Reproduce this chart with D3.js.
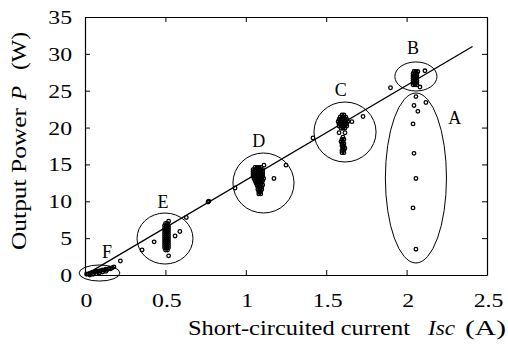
<!DOCTYPE html>
<html>
<head>
<meta charset="utf-8">
<script src="https://cdn.jsdelivr.net/npm/d3@7"></script>
<style>
  html, body { margin: 0; padding: 0; background: #fff; }
</style>
</head>
<body>
<svg id="chart" width="508" height="350" font-family="Liberation Serif, Times New Roman, serif"></svg>
<script>
// Measured output power versus short-circuited current, grouped by irradiance condition
const groupA_x = [2.058, 2.046, 2.12, 2.07, 2.04, 2.046, 2.058, 2.04, 2.058];
const groupA_y = [24.2, 23.0, 23.4, 22.2, 20.5, 16.5, 13.1, 9.1, 3.5];

const groupB_x = [
  2.040, 2.052, 2.064,  2.040, 2.052, 2.064,  2.040, 2.052, 2.064,  2.040, 2.052, 2.064,
  2.040, 2.052, 2.064,  2.040, 2.052, 2.064,  2.046, 2.058, 2.070,
  2.114, 2.083, 1.90];
const groupB_y = [
  25.8, 25.8, 25.8,  26.1, 26.1, 26.1,  26.4, 26.4, 26.4,  26.7, 26.7, 26.7,
  27.0, 27.0, 27.0,  27.3, 27.3, 27.3,  27.6, 27.6, 27.6,
  27.7, 25.5, 25.4];

const groupC_x = [
  1.592, 1.604, 1.616,
  1.580, 1.592, 1.604, 1.616, 1.628,
  1.580, 1.592, 1.604, 1.616, 1.628,
  1.574, 1.586, 1.598, 1.610, 1.622, 1.634,
  1.580, 1.592, 1.604, 1.616, 1.628,
  1.586, 1.598, 1.610, 1.622,
  1.598, 1.610,
  1.598, 1.610,  1.598, 1.610,  1.604, 1.616,  1.598, 1.610,
  1.598, 1.610,  1.592, 1.604,  1.598, 1.610,  1.604,
  1.66, 1.729, 1.58, 1.617, 1.418];
const groupC_y = [
  19.9, 19.9, 19.9,
  20.2, 20.2, 20.2, 20.2, 20.2,
  20.5, 20.5, 20.5, 20.5, 20.5,
  20.8, 20.8, 20.8, 20.8, 20.8, 20.8,
  21.1, 21.1, 21.1, 21.1, 21.1,
  21.4, 21.4, 21.4, 21.4,
  21.7, 21.7,
  16.6, 16.6,  16.9, 16.9,  17.2, 17.2,  17.5, 17.5,
  17.8, 17.8,  18.1, 18.1,  18.4, 18.4,  18.7,
  20.8, 21.5, 19.3, 19.3, 18.6];

const groupD_x = [
  1.057, 1.069, 1.081, 1.093,
  1.045, 1.057, 1.069, 1.081, 1.093, 1.105,
  1.045, 1.057, 1.069, 1.081, 1.093, 1.105,
  1.045, 1.057, 1.069, 1.081, 1.093, 1.105,
  1.045, 1.057, 1.069, 1.081, 1.093, 1.105,
  1.051, 1.063, 1.075, 1.087, 1.099, 1.111,
  1.057, 1.069, 1.081, 1.093, 1.105,
  1.063, 1.075, 1.087, 1.099,
  1.069, 1.081, 1.093, 1.105,
  1.075, 1.087, 1.099,  1.075, 1.087, 1.099,  1.081, 1.093,  1.081, 1.093,
  1.113, 1.175, 1.25, 0.933];
const groupD_y = [
  14.6, 14.6, 14.6, 14.6,
  14.3, 14.3, 14.3, 14.3, 14.3, 14.3,
  14.0, 14.0, 14.0, 14.0, 14.0, 14.0,
  13.7, 13.7, 13.7, 13.7, 13.7, 13.7,
  13.4, 13.4, 13.4, 13.4, 13.4, 13.4,
  13.1, 13.1, 13.1, 13.1, 13.1, 13.1,
  12.8, 12.8, 12.8, 12.8, 12.8,
  12.5, 12.5, 12.5, 12.5,
  12.2, 12.2, 12.2, 12.2,
  11.9, 11.9, 11.9,  11.6, 11.6, 11.6,  11.3, 11.3,  11.0, 11.0,
  14.9, 13.1, 14.9, 11.8];

const groupE_x = [
  0.501, 0.513,
  0.495, 0.507, 0.519,  0.495, 0.507, 0.519,  0.495, 0.507, 0.519,  0.495, 0.507, 0.519,
  0.495, 0.507, 0.519,  0.495, 0.507, 0.519,  0.495, 0.507, 0.519,  0.495, 0.507, 0.519,
  0.495, 0.507, 0.519,  0.495, 0.507, 0.519,  0.495, 0.507, 0.519,
  0.501, 0.513,
  0.59, 0.56, 0.43, 0.52, 0.63, 0.355, 0.52];
const groupE_y = [
  3.4, 3.4,
  3.7, 3.7, 3.7,  4.0, 4.0, 4.0,  4.3, 4.3, 4.3,  4.6, 4.6, 4.6,
  4.9, 4.9, 4.9,  5.2, 5.2, 5.2,  5.5, 5.5, 5.5,  5.8, 5.8, 5.8,
  6.1, 6.1, 6.1,  6.4, 6.4, 6.4,  6.7, 6.7, 6.7,
  7.0, 7.0,
  5.9, 5.3, 4.5, 2.6, 7.8, 3.4, 7.3];

const groupF_x = [0.01, 0.02, 0.03, 0.04, 0.05, 0.06, 0.07, 0.08, 0.09, 0.10, 0.11, 0.12, 0.13, 0.14, 0.15, 0.16, 0.17, 0.18, 0.03, 0.05, 0.07, 0.09, 0.11, 0.13,
                  0.22, 0.765, 0.77];
const groupF_y = [0.1, 0.15, 0.2, 0.3, 0.35, 0.4, 0.5, 0.45, 0.55, 0.6, 0.7, 0.65, 0.8, 0.75, 0.9, 0.85, 1.0, 1.1, 0.0, 0.1, 0.2, 0.3, 0.4, 0.5,
                  1.9, 9.9, 10.0];

// Fitted proportional relation P ~ k * Isc
const fitX = [0.02, 2.41];
const fitY = [0.25, 31.0];

// Groups ringed on the plot and their letters
const ringNames = ["A", "B", "C", "D", "E", "F"];
const ringCx = [2.058, 2.058, 1.617, 1.110, 0.4975, 0.09];
const ringCy = [13.16, 26.93, 19.40, 12.48, 4.95, 0.27];
const ringRx = [0.19, 0.131, 0.193, 0.19, 0.174, 0.127];
const ringRy = [11.53, 1.97, 4.07, 4.07, 3.46, 1.09];
const labelX = [2.30, 2.04, 1.59, 1.08, 0.485, 0.137];
const labelY = [21.3, 30.8, 25.1, 18.2, 9.9, 3.1];

const xTicks = [0, 0.5, 1, 1.5, 2, 2.5];
const yTicks = [0, 5, 10, 15, 20, 25, 30, 35];

const svg = d3.select("#chart");
const plotLeft = 85, plotRight = 487, plotTop = 17, plotBottom = 275;

const x = d3.scaleLinear().domain([0, 2.5]).range([plotLeft, plotRight]);
const y = d3.scaleLinear().domain([0, 35]).range([plotBottom, plotTop]);

// Frame with inward ticks on all four sides
const tickLen = 5;
function styleAxis(g) {
  g.select(".domain").attr("stroke", "#000").attr("stroke-width", 1.2);
  g.selectAll(".tick line").attr("stroke", "#000").attr("stroke-width", 1);
}
svg.append("g").attr("transform", `translate(0,${plotBottom})`)
  .call(d3.axisBottom(x).tickValues(xTicks).tickSizeInner(-tickLen).tickSizeOuter(0).tickFormat(""))
  .call(styleAxis);
svg.append("g").attr("transform", `translate(0,${plotTop})`)
  .call(d3.axisTop(x).tickValues(xTicks).tickSizeInner(-tickLen).tickSizeOuter(0).tickFormat(""))
  .call(styleAxis);
svg.append("g").attr("transform", `translate(${plotLeft},0)`)
  .call(d3.axisLeft(y).tickValues(yTicks).tickSizeInner(-tickLen).tickSizeOuter(0).tickFormat(""))
  .call(styleAxis);
svg.append("g").attr("transform", `translate(${plotRight},0)`)
  .call(d3.axisRight(y).tickValues(yTicks).tickSizeInner(-tickLen).tickSizeOuter(0).tickFormat(""))
  .call(styleAxis);

// Tick labels, set in a slightly widened serif face
const tickFont = 19;
function widen(sel, factor) {
  sel.each(function () {
    const w = this.getComputedTextLength();
    d3.select(this).attr("textLength", w * factor).attr("lengthAdjust", "spacingAndGlyphs");
  });
}
svg.append("g").selectAll("text").data(xTicks).join("text")
  .attr("x", d => x(d) + 1.5).attr("y", 307)
  .attr("text-anchor", "middle").attr("font-size", tickFont)
  .text(d => d3.format("")(d))
  .call(widen, 1.25);
svg.append("g").selectAll("text").data(yTicks).join("text")
  .attr("x", 72).attr("y", d => y(d) + 7)
  .attr("text-anchor", "end").attr("font-size", tickFont)
  .text(d => d)
  .call(widen, 1.25);

// Axis titles
const xt = svg.append("g").attr("font-size", 22);
xt.append("text").attr("x", 188).attr("y", 335).text("Short-circuited current")
  .attr("textLength", 222).attr("lengthAdjust", "spacingAndGlyphs");
xt.append("text").attr("x", 428).attr("y", 335).attr("font-style", "italic").text("Isc")
  .attr("textLength", 27).attr("lengthAdjust", "spacingAndGlyphs");
xt.append("text").attr("x", 465).attr("y", 335).text("(A)")
  .attr("textLength", 41).attr("lengthAdjust", "spacingAndGlyphs");

const yt = svg.append("g").attr("font-size", 21).attr("transform", "translate(26,0) rotate(-90)");
yt.append("text").attr("x", -250).attr("y", 0).text("Output Power")
  .attr("textLength", 142).attr("lengthAdjust", "spacingAndGlyphs");
yt.append("text").attr("x", -100).attr("y", 0).attr("font-style", "italic").text("P")
  .attr("textLength", 14).attr("lengthAdjust", "spacingAndGlyphs");
yt.append("text").attr("x", -70).attr("y", 0).text("(W)")
  .attr("textLength", 38).attr("lengthAdjust", "spacingAndGlyphs");

// Fitted line
svg.append("path")
  .datum(fitX.map((d, i) => [d, fitY[i]]))
  .attr("d", d3.line().x(d => x(d[0])).y(d => y(d[1])))
  .attr("fill", "none").attr("stroke", "#000").attr("stroke-width", 1.3);

// Rings around groups
svg.append("g").selectAll("ellipse").data(ringNames).join("ellipse")
  .attr("cx", (d, i) => x(ringCx[i]))
  .attr("cy", (d, i) => y(ringCy[i]))
  .attr("rx", (d, i) => x(ringRx[i]) - x(0))
  .attr("ry", (d, i) => y(0) - y(ringRy[i]))
  .attr("fill", "none").attr("stroke", "#000").attr("stroke-width", 1);

svg.append("g").selectAll("text").data(ringNames).join("text")
  .attr("x", (d, i) => x(labelX[i]))
  .attr("y", (d, i) => y(labelY[i]) + 6)
  .attr("text-anchor", "middle").attr("font-size", 18)
  .text(d => d);

// Measurement points as small open circles
const groups = [
  [groupA_x, groupA_y], [groupB_x, groupB_y], [groupC_x, groupC_y],
  [groupD_x, groupD_y], [groupE_x, groupE_y], [groupF_x, groupF_y]
];
const points = groups.flatMap(([gx, gy]) => gx.map((v, i) => [v, gy[i]]));
svg.append("g").selectAll("circle").data(points).join("circle")
  .attr("cx", d => x(d[0])).attr("cy", d => y(d[1]))
  .attr("r", 1.8).attr("fill", "none").attr("stroke", "#000").attr("stroke-width", 1.3);
</script>
</body>
</html>
